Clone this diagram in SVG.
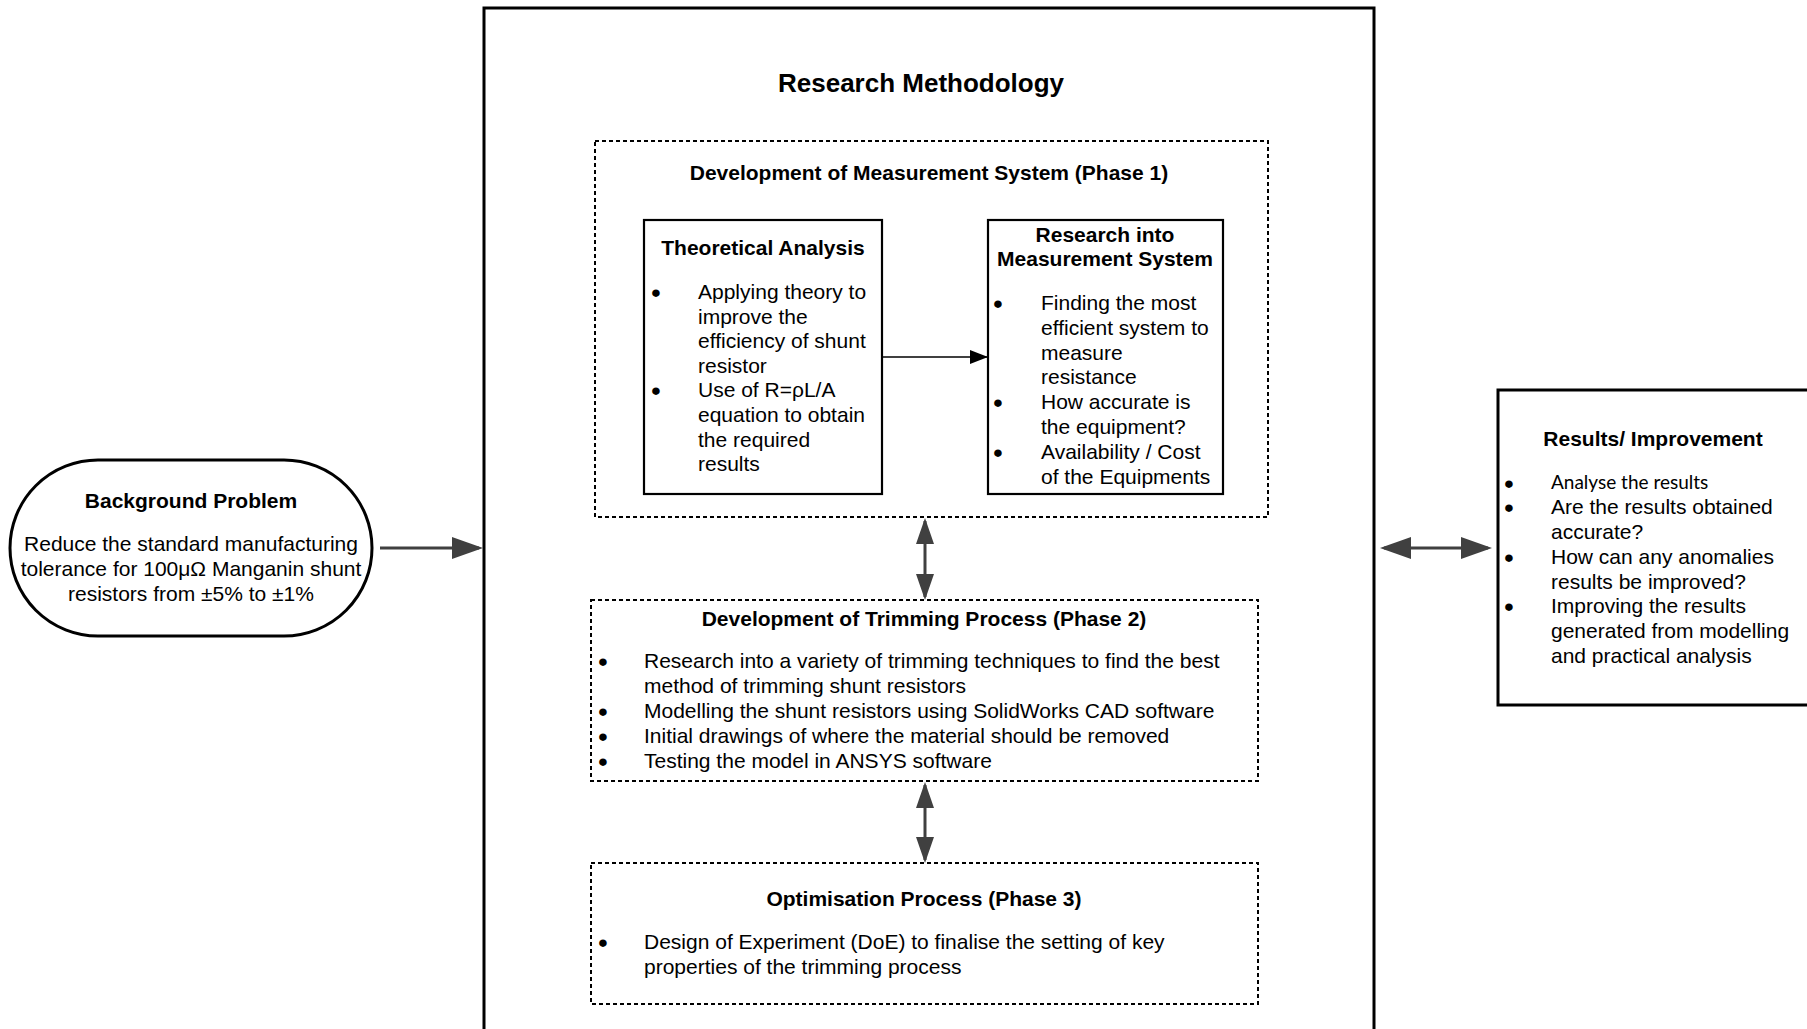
<svg xmlns="http://www.w3.org/2000/svg" width="1807" height="1029" viewBox="0 0 1807 1029">
  <style>
    text { font-family: "Liberation Sans", Arial, sans-serif; font-size: 21px; fill: #000; }
    .title { font-weight: bold; }
    .big { font-size: 26px; font-weight: bold; }
    .mid { text-anchor: middle; }
    .bul { text-anchor: middle; stroke: #000; stroke-width: 1.8; }
    .cal { font-family: Lato, "Liberation Sans", sans-serif; font-size: 19px; }
    .solid { fill: #fff; stroke: #000; stroke-width: 2.2; }
    .heavy { fill: #fff; stroke: #000; stroke-width: 3; }
    .dash { fill: #fff; stroke: #000; stroke-width: 2; stroke-dasharray: 4 3; }
    .gray { stroke: #404040; fill: none; }
  </style>
  <defs>
    <marker id="headBig" markerUnits="userSpaceOnUse" viewBox="0 0 31 22" markerWidth="31" markerHeight="22" refX="27" refY="11" orient="auto-start-reverse">
      <path d="M0,0 L31,11 L0,22 Z" fill="#404040"/>
    </marker>
    <marker id="headMid" markerUnits="userSpaceOnUse" viewBox="0 0 26 18" markerWidth="26" markerHeight="18" refX="23" refY="9" orient="auto-start-reverse">
      <path d="M0,0 L26,9 L0,18 Z" fill="#404040"/>
    </marker>
    <marker id="headBlack" markerUnits="userSpaceOnUse" viewBox="0 0 18 14" markerWidth="18" markerHeight="14" refX="17" refY="7" orient="auto">
      <path d="M0,0 L18,7 L0,14 Z" fill="#000"/>
    </marker>
  </defs>

  <rect width="1807" height="1029" fill="#fff"/>

  <!-- outer frame: Research Methodology -->
  <g id="research-methodology">
    <rect x="484" y="8" width="890" height="1060" fill="none" stroke="#000" stroke-width="3"/>
    <text class="big mid" x="921" y="92">Research Methodology</text>
  </g>

  <!-- background problem -->
  <g id="background-problem">
    <rect class="heavy" x="10" y="460" width="362" height="176" rx="88" ry="88"/>
    <text class="title mid" x="191" y="508">Background Problem</text>
    <text class="mid" x="191" y="551">Reduce the standard manufacturing</text>
    <text class="mid" x="191" y="576">tolerance for 100μΩ Manganin shunt</text>
    <text class="mid" x="191" y="601">resistors from ±5% to ±1%</text>
  </g>

  <!-- phase 1 -->
  <g id="phase1">
    <rect class="dash" x="595" y="141" width="673" height="376"/>
    <text class="title mid" x="929" y="180">Development of Measurement System (Phase 1)</text>
  </g>

  <g id="theoretical-analysis">
    <rect class="solid" x="644" y="220" width="238" height="274"/>
    <text class="title mid" x="763" y="255">Theoretical Analysis</text>
    <text class="bul" x="656" y="300">•</text>
    <text x="698" y="299">Applying theory to</text>
    <text x="698" y="323.6">improve the</text>
    <text x="698" y="348.2">efficiency of shunt</text>
    <text x="698" y="372.8">resistor</text>
    <text class="bul" x="656" y="398.4">•</text>
    <text x="698" y="397.4">Use of R=ρL/A</text>
    <text x="698" y="422">equation to obtain</text>
    <text x="698" y="446.6">the required</text>
    <text x="698" y="471.2">results</text>
  </g>

  <g id="measurement-system">
    <rect class="solid" x="988" y="220" width="235" height="274"/>
    <text class="title mid" x="1105" y="242">Research into</text>
    <text class="title mid" x="1105" y="266">Measurement System</text>
    <text class="bul" x="998" y="311">•</text>
    <text x="1041" y="310">Finding the most</text>
    <text x="1041" y="334.8">efficient system to</text>
    <text x="1041" y="359.6">measure</text>
    <text x="1041" y="384.4">resistance</text>
    <text class="bul" x="998" y="410.2">•</text>
    <text x="1041" y="409.2">How accurate is</text>
    <text x="1041" y="434">the equipment?</text>
    <text class="bul" x="998" y="459.8">•</text>
    <text x="1041" y="458.8">Availability / Cost</text>
    <text x="1041" y="483.6">of the Equipments</text>
  </g>

  <!-- phase 2 -->
  <g id="phase2">
    <rect class="dash" x="591" y="600" width="667" height="181"/>
    <text class="title mid" x="924" y="626">Development of Trimming Process (Phase 2)</text>
    <text class="bul" x="603" y="669">•</text>
    <text x="644" y="668">Research into a variety of trimming techniques to find the best</text>
    <text x="644" y="693">method of trimming shunt resistors</text>
    <text class="bul" x="603" y="719">•</text>
    <text x="644" y="718">Modelling the shunt resistors using SolidWorks CAD software</text>
    <text class="bul" x="603" y="744">•</text>
    <text x="644" y="743">Initial drawings of where the material should be removed</text>
    <text class="bul" x="603" y="769">•</text>
    <text x="644" y="768">Testing the model in ANSYS software</text>
  </g>

  <!-- phase 3 -->
  <g id="phase3">
    <rect class="dash" x="591" y="863" width="667" height="141"/>
    <text class="title mid" x="924" y="906">Optimisation Process (Phase 3)</text>
    <text class="bul" x="603" y="950">•</text>
    <text x="644" y="949">Design of Experiment (DoE) to finalise the setting of key</text>
    <text x="644" y="974">properties of the trimming process</text>
  </g>

  <!-- results -->
  <g id="results">
    <rect class="heavy" x="1498" y="390" width="400" height="315"/>
    <text class="title mid" x="1653" y="446">Results/ Improvement</text>
    <text class="bul" x="1509" y="491">•</text>
    <text class="cal" x="1551" y="489">Analyse the results</text>
    <text class="bul" x="1509" y="515">•</text>
    <text x="1551" y="514">Are the results obtained</text>
    <text x="1551" y="539">accurate?</text>
    <text class="bul" x="1509" y="565">•</text>
    <text x="1551" y="564">How can any anomalies</text>
    <text x="1551" y="589">results be improved?</text>
    <text class="bul" x="1509" y="614">•</text>
    <text x="1551" y="613">Improving the results</text>
    <text x="1551" y="638">generated from modelling</text>
    <text x="1551" y="663">and practical analysis</text>
  </g>

  <!-- connectors -->
  <g id="connectors">
    <line class="gray" x1="380" y1="548" x2="479" y2="548" stroke-width="3" marker-end="url(#headBig)"/>
    <line class="gray" x1="1384" y1="548" x2="1488" y2="548" stroke-width="3" marker-start="url(#headBig)" marker-end="url(#headBig)"/>
    <line class="gray" x1="925" y1="521" x2="925" y2="597" stroke-width="3" marker-start="url(#headMid)" marker-end="url(#headMid)"/>
    <line class="gray" x1="925" y1="785" x2="925" y2="860" stroke-width="3" marker-start="url(#headMid)" marker-end="url(#headMid)"/>
    <line x1="882" y1="357" x2="987" y2="357" stroke="#000" stroke-width="1.3" marker-end="url(#headBlack)"/>
  </g>
</svg>
